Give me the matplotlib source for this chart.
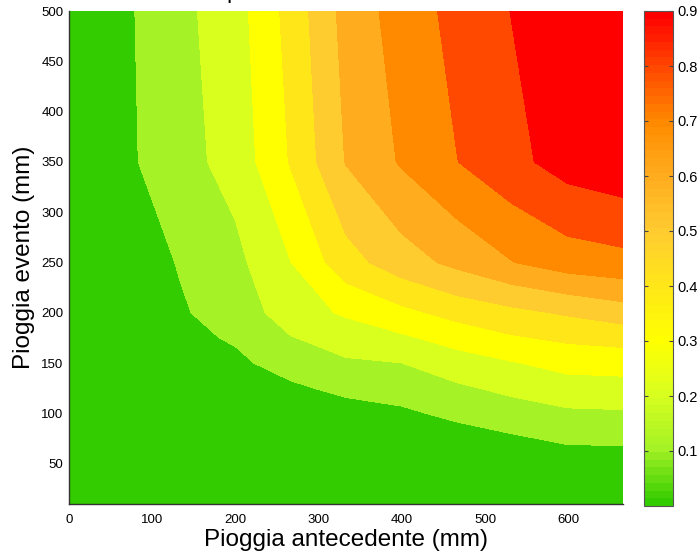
import matplotlib
matplotlib.use('Agg')
import numpy as np
import matplotlib.pyplot as plt
from matplotlib.colors import LinearSegmentedColormap, ListedColormap, Normalize
from matplotlib.cm import ScalarMappable

plt.rcParams['font.family'] = ['Liberation Sans', 'DejaVu Sans']

# ---- data -------------------------------------------------------------
# antecedent rainfall grid (mm)
x_vals = [0, 66.5, 133, 199.5, 266, 332.5, 399, 465.5, 532, 598.5, 665]
# event rainfall grid (mm)
y_vals = [10, 50, 75, 100, 125, 150, 175, 200, 250, 350, 500]

# probability values, one row per event rainfall
p_y10  = [0.000, 0.000, 0.000, 0.000, 0.000, 0.000, 0.000, 0.002, 0.005, 0.015, 0.020]
p_y50  = [0.001, 0.005, 0.008, 0.005, 0.005, 0.005, 0.005, 0.015, 0.020, 0.049, 0.050]
p_y75  = [0.002, 0.010, 0.015, 0.010, 0.010, 0.010, 0.024, 0.059, 0.087, 0.116, 0.119]
p_y100 = [0.003, 0.020, 0.030, 0.030, 0.028, 0.060, 0.083, 0.121, 0.155, 0.184, 0.189]
p_y125 = [0.005, 0.025, 0.045, 0.050, 0.083, 0.123, 0.141, 0.184, 0.223, 0.256, 0.262]
p_y150 = [0.008, 0.030, 0.060, 0.080, 0.139, 0.186, 0.199, 0.2545, 0.293, 0.334, 0.341]
p_y175 = [0.010, 0.035, 0.075, 0.110, 0.194, 0.248, 0.284, 0.338, 0.389, 0.418, 0.436]
p_y200 = [0.015, 0.040, 0.091, 0.135, 0.255, 0.312, 0.373, 0.434, 0.474, 0.5115, 0.552]
p_y250 = [0.020, 0.050, 0.105, 0.173, 0.298, 0.460, 0.555, 0.625, 0.697, 0.750, 0.770]
p_y350 = [0.035, 0.079, 0.163, 0.237, 0.407, 0.605, 0.710, 0.798, 0.873, 0.941, 0.971]
p_y500 = [0.040, 0.083, 0.173, 0.258, 0.435, 0.635, 0.744, 0.830, 0.903, 0.970, 0.990]

contour_levels = [0.0, 0.1, 0.2, 0.3, 0.4, 0.5, 0.6, 0.7, 0.8, 0.9, 1.0]
cbar_ticks = [0.1, 0.2, 0.3, 0.4, 0.5, 0.6, 0.7, 0.8, 0.9]
cbar_tick_labels = ['0.1', '0.2', '0.3', '0.4', '0.5', '0.6', '0.7', '0.8', '0.9']
x_ticks = [0, 100, 200, 300, 400, 500, 600]
y_ticks = [50, 100, 150, 200, 250, 300, 350, 400, 450, 500]

# colormap anchors (value -> colour)
anchor_vals = [0.0, 0.1, 0.2, 0.3, 0.4, 0.5, 0.6, 0.7, 0.8, 0.9]
anchor_cols = ['#33cc00', '#a6f226', '#daff1f', '#ffff00', '#ffe619',
               '#ffcc30', '#ffad1f', '#ff8c00', '#ff4a00', '#ff0000']

Z = np.array([p_y10, p_y50, p_y75, p_y100, p_y125, p_y150, p_y175,
              p_y200, p_y250, p_y350, p_y500])

# ---- figure -----------------------------------------------------------
W, H = 700, 556
fig = plt.figure(figsize=(W / 100, H / 100), dpi=100)

def fx(px):
    return px / W

def fy(py):
    return 1 - py / H

ax = fig.add_axes([fx(69), fy(504), fx(623) - fx(69), fy(11) - fy(504)])

vmin, vmax = 0.0, 0.9
cmap_cont = LinearSegmentedColormap.from_list(
    'pg', list(zip([v / vmax for v in anchor_vals], anchor_cols)))
cmap64 = ListedColormap(cmap_cont(np.linspace(0, 1, 64)))
norm = Normalize(vmin, vmax)

band_colors = [cmap_cont(norm(v)) for v in contour_levels[:-1]]
ax.contourf(x_vals, y_vals, Z, levels=contour_levels, colors=band_colors)

ax.set_xlim(0, 665)
ax.set_ylim(10, 500)
ax.set_xticks(x_ticks)
ax.set_yticks(y_ticks)
ax.tick_params(axis='both', length=0, labelsize=9.5, colors='black')
ax.tick_params(axis='x', pad=7)
ax.tick_params(axis='y', pad=4)
for s in ['top', 'right']:
    ax.spines[s].set_visible(False)
for s in ['left', 'bottom']:
    ax.spines[s].set_color('#333333')
    ax.spines[s].set_linewidth(1.0)

ax.set_xlabel('Pioggia antecedente (mm)', fontsize=17.5, va='center')
ax.xaxis.set_label_coords(0.5, (504 - 540) / 493)
ax.set_ylabel('Pioggia evento (mm)', fontsize=17.5, va='center')
ax.yaxis.set_label_coords((24 - 69) / 554, 0.5)

# clipped title descender visible at the top edge
fig.text(fx(226.5), 1 + 2.2 / H, 'p', fontsize=17, va='baseline', ha='left')

# ---- colorbar ---------------------------------------------------------
cax = fig.add_axes([fx(644), fy(506), fx(673) - fx(644), fy(11) - fy(506)])
sm = ScalarMappable(norm=norm, cmap=cmap64)
cb = fig.colorbar(sm, cax=cax, ticks=cbar_ticks)
cb.ax.set_yticklabels(cbar_tick_labels)
cb.ax.tick_params(direction='in', left=True, right=True, length=3,
                  width=0.8, color='#444444', labelsize=10.5, pad=3)
cb.outline.set_edgecolor('#555555')
cb.outline.set_linewidth(0.8)

fig.savefig('out.png', dpi=100)
